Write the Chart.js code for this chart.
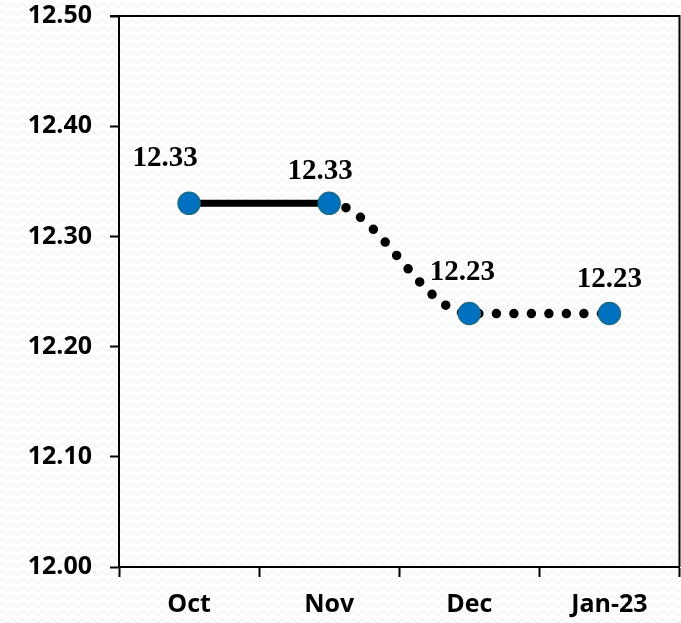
<!DOCTYPE html>
<html lang="en">
<head>
    <meta charset="UTF-8">
    <title>Monthly value</title>
    <script src="https://cdn.jsdelivr.net/npm/chart.js"></script>
    <style>
        html, body {
            margin: 0;
            padding: 0;
            width: 681px;
            height: 623px;
            overflow: hidden;
            background-color: #ffffff;
            background-image: url("data:image/svg+xml,%3Csvg xmlns='http://www.w3.org/2000/svg' width='10' height='8'%3E%3Cpath d='M0 5 Q2.5 1 5 5 T10 5' fill='none' stroke='%23ebebeb' stroke-width='1'/%3E%3C/svg%3E");
        }
        canvas { display: block; }
    </style>
</head>
<body>
    <!-- a little wider than the window: the plot frame runs to the right edge -->
    <canvas id="myChart" width="692" height="623"></canvas>

    <script>
        const months = ['Oct', 'Nov', 'Dec', 'Jan-23'];
        const values = [12.33, 12.33, 12.23, 12.23];
        const yMin = 12.0;
        const yMax = 12.5;
        const yStep = 0.1;

        const axisFont = { family: '"Open Sans", Lato, sans-serif', size: 25, weight: 'bold' };

        // frame round the plot area (top and right sides)
        const frame = {
            id: 'frame',
            afterDraw(chart) {
                const { ctx, chartArea: a } = chart;
                ctx.save();
                ctx.strokeStyle = '#000';
                ctx.lineWidth = 2;
                ctx.beginPath();
                ctx.moveTo(a.left - 9, a.top);
                ctx.lineTo(a.right, a.top);
                ctx.lineTo(a.right, a.bottom);
                ctx.stroke();
                ctx.restore();
            }
        };

        // value labels above each point
        const valueLabels = {
            id: 'valueLabels',
            afterDatasetsDraw(chart) {
                const { ctx } = chart;
                const meta = chart.getDatasetMeta(0);
                ctx.save();
                ctx.font = 'bold 29px "Liberation Serif", "Times New Roman", serif';
                ctx.fillStyle = '#000';
                ctx.textAlign = 'center';
                ctx.textBaseline = 'alphabetic';
                meta.data.forEach((pt, i) => {
                    const dx = [-24, -9, -7, 0][i];
                    const dy = [37, 24, 34, 27][i];
                    ctx.fillText(values[i].toFixed(2), pt.x + dx, pt.y - dy);
                });
                ctx.restore();
            }
        };

        const ctx = document.getElementById('myChart').getContext('2d');
        new Chart(ctx, {
            type: 'line',
            data: {
                labels: months,
                datasets: [{
                    data: values,
                    borderColor: '#000',
                    borderWidth: 7,
                    borderCapStyle: 'round',
                    cubicInterpolationMode: 'monotone',
                    pointRadius: 11,
                    pointBackgroundColor: '#0070C0',
                    pointBorderColor: '#1B6B8A',
                    pointBorderWidth: 1.5,
                    segment: {
                        borderDash: c => c.p0DataIndex >= 1 ? [0, 17.5] : undefined,
                        borderWidth: c => c.p0DataIndex >= 1 ? 9.5 : 7
                    }
                }]
            },
            options: {
                responsive: false,
                animation: false,
                layout: { padding: { top: 16, right: 1, left: 0, bottom: 0 } },
                plugins: {
                    legend: { display: false },
                    tooltip: { enabled: false }
                },
                scales: {
                    x: {
                        offset: true,
                        grid: {
                            offset: true,
                            drawOnChartArea: false,
                            drawTicks: true,
                            tickLength: 10,
                            tickWidth: 2,
                            tickColor: '#000'
                        },
                        border: { display: true, color: '#000', width: 2 },
                        ticks: {
                            color: '#000',
                            padding: 13,
                            maxRotation: 0,
                            font: axisFont
                        },
                        afterFit: s => {
                            s.height = 56;
                            s.paddingLeft = 0;
                            s.paddingRight = 0;
                        }
                    },
                    y: {
                        min: yMin,
                        max: yMax,
                        grid: {
                            drawOnChartArea: false,
                            drawTicks: true,
                            tickLength: 9,
                            tickWidth: 2,
                            tickColor: '#000'
                        },
                        border: { display: true, color: '#000', width: 2 },
                        ticks: {
                            stepSize: yStep,
                            color: '#000',
                            padding: 18,
                            callback: v => v.toFixed(2),
                            font: axisFont
                        },
                        afterFit: s => {
                            s.width = 119;
                            s.paddingTop = 0;
                            s.paddingBottom = 0;
                        }
                    }
                }
            },
            plugins: [frame, valueLabels]
        });
    </script>
</body>
</html>
